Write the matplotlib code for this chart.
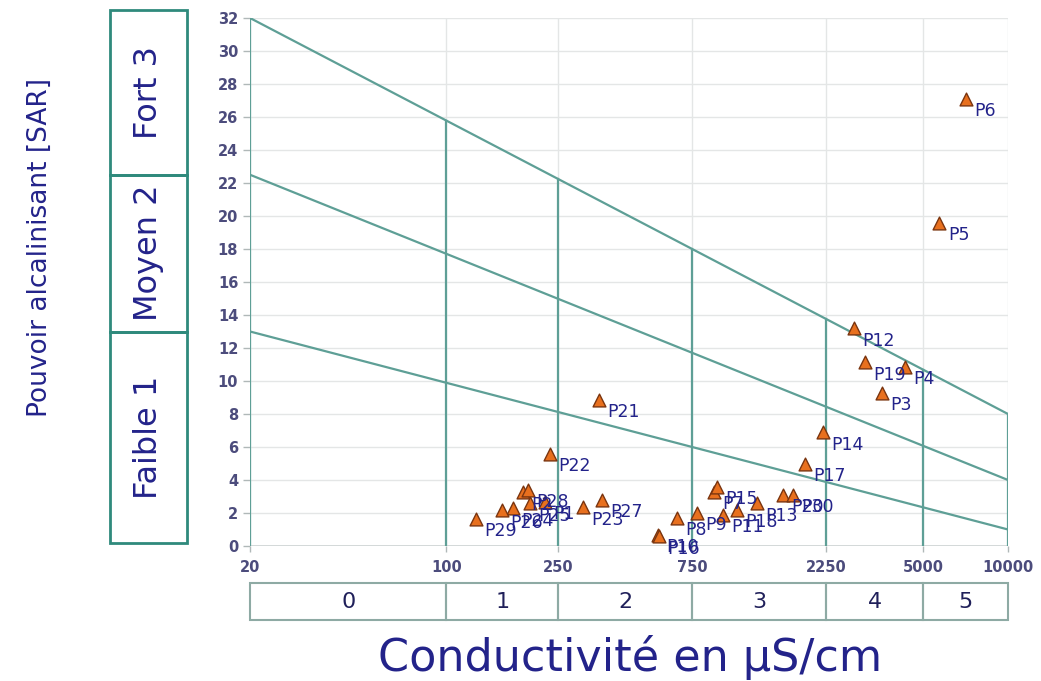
import matplotlib.pyplot as plt
from matplotlib.patches import Rectangle
import numpy as np

# Riverside-type diagram (conductivity vs SAR)
labels = ['P1', 'P2', 'P3', 'P4', 'P5', 'P6', 'P7', 'P8', 'P9', 'P10',
          'P11', 'P12', 'P13', 'P14', 'P15', 'P16', 'P17', 'P18', 'P19', 'P20',
          'P21', 'P22', 'P23', 'P24', 'P25', 'P26', 'P27', 'P28', 'P29', 'P30']
cond = [224, 187, 3550, 4290, 5700, 7060, 900, 662, 780, 566,
        964, 2820, 1274, 2190, 918, 570, 1890, 1080, 3090, 1577,
        349, 234, 306, 173, 198, 158, 358, 195, 128, 1711]
sar = [2.67, 3.27, 9.3, 10.85, 19.6, 27.1, 3.3, 1.7, 2.0, 0.67,
       1.9, 13.2, 2.6, 6.9, 3.6, 0.6, 4.97, 2.2, 11.15, 3.1,
       8.85, 5.58, 2.36, 2.3, 2.6, 2.18, 2.8, 3.4, 1.64, 3.1]

# class limits
c_bounds = [20, 100, 250, 750, 2250, 5000, 10000]
c_classes = ['0', '1', '2', '3', '4', '5']
s_left = [13, 22.5, 32]      # SAR limits at 20 uS/cm
s_right = [1, 4, 8]          # SAR limits at 10000 uS/cm
s_box = [0.2, 13, 22.5, 32.5]
s_classes = ['Faible 1', 'Moyen 2', 'Fort 3']
y_ticks = list(range(0, 33, 2))

teal = '#5e9f96'
navy = '#23238a'
tick_col = '#4c4c7c'

W, H = 1041, 681
fig = plt.figure(figsize=(W / 100, H / 100), dpi=100)

def px_axes(x0, y0, x1, y1):
    return fig.add_axes([x0 / W, 1 - y1 / H, (x1 - x0) / W, (y1 - y0) / H])

ax = px_axes(250, 18, 1008, 546)
ax.set_xscale('log')
ax.set_xlim(c_bounds[0], c_bounds[-1])
ax.set_ylim(0, 32)
for sp in ax.spines.values():
    sp.set_visible(False)
ax.axhline(0, color='#c8d0d0', lw=1.2, zorder=1)

ax.set_yticks(y_ticks)
ax.set_xticks(c_bounds)
ax.set_xticklabels([str(c) for c in c_bounds])
ax.xaxis.set_minor_locator(plt.NullLocator())
ax.tick_params(axis='both', colors='#b0b8b8', labelcolor=tick_col,
               labelsize=10.5, length=5, width=1)
for t in ax.get_xticklabels() + ax.get_yticklabels():
    t.set_fontweight('bold')
ax.tick_params(axis='x', length=4, pad=6)
ax.grid(True, color='#e4e6e6', lw=1, zorder=0)

# oblique SAR limit lines, straight in log(conductivity)
lx0, lx1 = np.log10(c_bounds[0]), np.log10(c_bounds[-1])
for a, b in zip(s_left, s_right):
    ax.plot([c_bounds[0], c_bounds[-1]], [a, b], color=teal, lw=1.6, zorder=2)

# vertical class lines, up to the top oblique line
for c in c_bounds:
    f = (np.log10(c) - lx0) / (lx1 - lx0)
    top = s_left[-1] + f * (s_right[-1] - s_left[-1])
    ax.plot([c, c], [0, top], color=teal, lw=1.6, zorder=2)

ax.scatter(cond, sar, marker='^', s=85, c='#e8701e', edgecolors='#7a3510',
           linewidths=1.0, zorder=4)
for lab, x, y in zip(labels, cond, sar):
    ax.annotate(lab, (x, y), xytext=(6, -9), textcoords='offset points',
                fontsize=12.5, color=navy, ha='left', va='center', zorder=5)

# left SAR class boxes
axl = px_axes(110, 18, 187, 546)
axl.set_xlim(0, 1)
axl.set_ylim(0, 32)
axl.axis('off')
for lo, hi, name in zip(s_box[:-1], s_box[1:], s_classes):
    axl.add_patch(Rectangle((0, lo), 1, hi - lo, fill=False, ec='#2f8a7c',
                            lw=2, clip_on=False))
    axl.text(0.5, (lo + hi) / 2, name, rotation=90, ha='center', va='center',
             fontsize=23, color=navy)

# bottom conductivity class boxes
axb = px_axes(250, 583, 1008, 620)
axb.set_xscale('log')
axb.set_xlim(c_bounds[0], c_bounds[-1])
axb.set_ylim(0, 1)
axb.axis('off')
for lo, hi, name in zip(c_bounds[:-1], c_bounds[1:], c_classes):
    axb.add_patch(Rectangle((lo, 0), hi - lo, 1, fill=False, ec='#8eaaa4',
                            lw=1.5, clip_on=False))
    axb.text(np.sqrt(lo * hi), 0.5, name, ha='center', va='center',
             fontsize=16, color='#20205a')

fig.text(630 / W, 1 - 658 / H, 'Conductivité en µS/cm', ha='center', va='center',
         fontsize=32, color=navy)
fig.text(40 / W, 1 - 248 / H, 'Pouvoir alcalinisant [SAR]', rotation=90,
         ha='center', va='center', fontsize=19, color=navy)

fig.savefig('out.png', dpi=100, facecolor='white')
